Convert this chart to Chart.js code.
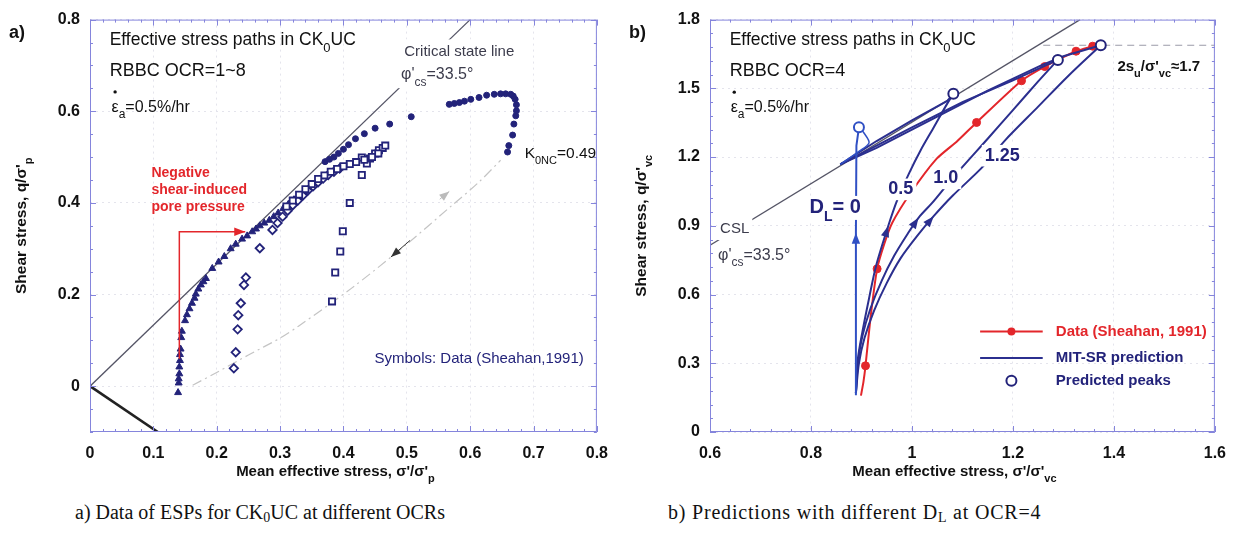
<!DOCTYPE html>
<html>
<head>
<meta charset="utf-8">
<script src="https://cdn.jsdelivr.net/npm/chart.js@4.4.1/dist/chart.umd.min.js"></script>
<style>
  body { margin: 0; background: #fff; width: 1238px; height: 536px; overflow: hidden; position: relative; }
  canvas { position: absolute; top: 0; }
  #cA { left: 0; }
  #cB { left: 620px; }
  .cap { position: absolute; top: 501px; font-family: "Liberation Serif", "Times New Roman", serif; font-size: 20px; color: #111; white-space: nowrap; }
  .cap sub { font-size: 14px; vertical-align: -3px; }
</style>
</head>
<body>
<canvas id="cA" width="620" height="490"></canvas>
<canvas id="cB" width="618" height="490"></canvas>
<div class="cap" style="left:75px">a) Data of ESPs for CK<sub>0</sub>UC at different OCRs</div>
<div class="cap" style="left:668px; letter-spacing:0.8px">b) Predictions with different D<sub>L</sub> at OCR=4</div>
<script>
// ---------- panel a : data ----------
const aTicksX = [0, 0.1, 0.2, 0.3, 0.4, 0.5, 0.6, 0.7, 0.8];
const aTicksY = [0, 0.2, 0.4, 0.6, 0.8];

const cslAx = [0, 0.6];
const cslAy = [0, 0.8];
const k0Ax = [0, 0.107];
const k0Ay = [0, -0.1];

// K0 consolidation / unloading path (dash-dot)
const unloadX = [0.162, 0.2, 0.25, 0.3, 0.329, 0.413, 0.5, 0.57, 0.612, 0.648];
const unloadY = [0.002, 0.03, 0.068, 0.105, 0.131, 0.214, 0.31, 0.393, 0.443, 0.493];

// symbols (Sheahan, 1991)
const triX = [0.139, 0.140, 0.140, 0.141, 0.141, 0.142, 0.142, 0.143, 0.144, 0.145, 0.150, 0.153, 0.157, 0.161, 0.165, 0.167, 0.171, 0.175, 0.179, 0.183, 0.193, 0.203, 0.212, 0.222, 0.230, 0.240, 0.248, 0.256, 0.262, 0.268, 0.275, 0.283, 0.290, 0.297, 0.305, 0.313, 0.322, 0.330, 0.340, 0.350, 0.360];
const triY = [-0.014, 0.007, 0.016, 0.027, 0.042, 0.056, 0.069, 0.081, 0.106, 0.120, 0.143, 0.156, 0.169, 0.181, 0.192, 0.201, 0.212, 0.221, 0.228, 0.235, 0.257, 0.271, 0.283, 0.300, 0.310, 0.321, 0.328, 0.337, 0.343, 0.350, 0.356, 0.362, 0.370, 0.378, 0.388, 0.397, 0.407, 0.417, 0.428, 0.437, 0.447];

const diaX = [0.227, 0.230, 0.233, 0.234, 0.238, 0.243, 0.246, 0.268, 0.288, 0.296, 0.304, 0.312, 0.320, 0.328, 0.336, 0.344, 0.352, 0.360, 0.368, 0.376, 0.385, 0.394];
const diaY = [0.039, 0.074, 0.124, 0.155, 0.181, 0.221, 0.237, 0.301, 0.341, 0.356, 0.370, 0.383, 0.395, 0.405, 0.416, 0.427, 0.436, 0.445, 0.453, 0.461, 0.468, 0.475];

const sqX = [0.382, 0.387, 0.395, 0.399, 0.410, 0.429, 0.437, 0.429, 0.442, 0.450, 0.456, 0.462, 0.466, 0.455, 0.445, 0.433, 0.420, 0.410, 0.400, 0.390, 0.380, 0.370, 0.360, 0.350, 0.340, 0.330, 0.320, 0.310];
const sqY = [0.185, 0.248, 0.294, 0.338, 0.400, 0.461, 0.486, 0.499, 0.497, 0.508, 0.515, 0.520, 0.525, 0.508, 0.500, 0.494, 0.489, 0.485, 0.480, 0.474, 0.468, 0.460, 0.452, 0.441, 0.430, 0.418, 0.405, 0.392];

const circX = [0.659, 0.661, 0.667, 0.669, 0.672, 0.673, 0.673, 0.671, 0.668, 0.664, 0.656, 0.648, 0.638, 0.626, 0.614, 0.601, 0.591, 0.583, 0.575, 0.567, 0.507, 0.473, 0.450, 0.433, 0.419, 0.408, 0.400, 0.392, 0.385, 0.378, 0.371];
const circY = [0.511, 0.525, 0.548, 0.572, 0.590, 0.601, 0.614, 0.626, 0.633, 0.637, 0.638, 0.638, 0.637, 0.635, 0.630, 0.626, 0.622, 0.619, 0.617, 0.615, 0.588, 0.572, 0.563, 0.551, 0.540, 0.527, 0.517, 0.508, 0.500, 0.495, 0.490];

// annotation arrows
const redArrX = [0.141, 0.141, 0.245];
const redArrY = [0.06, 0.337, 0.337];
const dArr1X = [0.505, 0.475];
const dArr1Y = [0.318, 0.282];
const dArr2X = [0.552, 0.567];
const dArr2Y = [0.408, 0.425];

// ---------- panel b : data ----------
const bTicksX = [0.6, 0.8, 1, 1.2, 1.4, 1.6];
const bTicksY = [0, 0.3, 0.6, 0.9, 1.2, 1.5, 1.8];

const cslBx = [0.6, 1.333];
const cslBy = [0.815, 1.8];
const peakLineX = [1.26, 1.6];
const peakLineY = [1.688, 1.688];

// measured (Sheahan, 1991)
const redLineX = [0.899, 0.904, 0.908, 0.918, 0.931, 0.945, 0.961, 0.997, 1.049, 1.090, 1.128, 1.217, 1.263, 1.325, 1.358];
const redLineY = [0.159, 0.220, 0.289, 0.500, 0.712, 0.820, 0.913, 1.042, 1.193, 1.270, 1.351, 1.533, 1.595, 1.662, 1.684];
const redPtX = [0.908, 0.931, 1.128, 1.217, 1.263, 1.325, 1.358];
const redPtY = [0.289, 0.712, 1.351, 1.533, 1.595, 1.662, 1.684];

// MIT-SR predictions, D_L = 0, 0.5, 1.0, 1.25
const dl0X = [0.889, 0.889, 0.889, 0.890, 0.895];
const dl0Y = [0.16, 0.60, 0.87, 1.25, 1.33];
const dl0PostX = [0.895, 0.905, 0.915, 0.895, 0.858];
const dl0PostY = [1.33, 1.305, 1.262, 1.225, 1.168];

const dl05X = [0.889, 0.893, 0.902, 0.915, 0.929, 0.953, 0.971, 0.994, 1.017, 1.043, 1.069, 1.082];
const dl05Y = [0.17, 0.32, 0.439, 0.583, 0.726, 0.899, 1.013, 1.128, 1.229, 1.329, 1.43, 1.476];
const dl05PostX = [1.082, 1.07, 1.0, 0.93, 0.858];
const dl05PostY = [1.476, 1.445, 1.36, 1.27, 1.168];

const dl10X = [0.889, 0.893, 0.902, 0.918, 0.940, 0.965, 0.990, 1.013, 1.040, 1.070, 1.100, 1.150, 1.200, 1.250, 1.289];
const dl10Y = [0.17, 0.30, 0.42, 0.54, 0.66, 0.77, 0.86, 0.935, 1.00, 1.08, 1.157, 1.28, 1.405, 1.53, 1.624];
const dl10PostX = [1.289, 1.2, 1.1, 1.0, 0.93, 0.858];
const dl10PostY = [1.624, 1.535, 1.44, 1.33, 1.25, 1.168];

const dl125X = [0.889, 0.895, 0.906, 0.925, 0.950, 0.978, 1.010, 1.043, 1.080, 1.140, 1.184, 1.250, 1.310, 1.374];
const dl125Y = [0.17, 0.30, 0.41, 0.53, 0.65, 0.76, 0.855, 0.942, 1.03, 1.157, 1.272, 1.42, 1.555, 1.688];
const dl125PostX = [1.374, 1.3, 1.256, 1.15, 1.0, 0.93, 0.858];
const dl125PostY = [1.688, 1.64, 1.6, 1.49, 1.32, 1.24, 1.168];

const peakX = [0.895, 1.082, 1.289, 1.374];
const peakY = [1.33, 1.476, 1.624, 1.688];

// ---------- styles ----------
const FONT = '"Liberation Sans", Arial, Helvetica, sans-serif';
const NAVY = '#23237a';
const BLUE = '#2b2f8f';
const BLUE0 = '#3050c4';
const RED = '#e3262b';
const GREY = '#3c3c4c';
const FRAME = '#8585dc';

const pts = (xs, ys) => xs.map((x, i) => ({ x: x, y: ys[i] }));

function line(xs, ys, color, width, extra) {
    return Object.assign({
        data: pts(xs, ys), showLine: true, borderColor: color, backgroundColor: color,
        borderWidth: width, pointRadius: 0, fill: false, tension: 0
    }, extra || {});
}

function marks(xs, ys, style, radius, filled, extra) {
    return Object.assign({
        data: pts(xs, ys), showLine: false, pointStyle: style, pointRadius: radius,
        borderColor: NAVY, backgroundColor: filled ? NAVY : '#fff',
        pointBorderWidth: filled ? 1 : 1.8
    }, extra || {});
}

// text with subscripts / dotted letters
function rich(ctx, x, y, parts, o) {
    const size = o.size || 15, weight = o.weight || 'normal';
    const f = s => weight + ' ' + s + 'px ' + FONT;
    let total = 0;
    const segs = parts.map(p => {
        const k = p[1] || '';
        const s = k === 'sub' ? Math.round(size * 0.72) : size;
        ctx.font = f(s);
        const wd = ctx.measureText(p[0]).width;
        total += wd;
        return { t: p[0], k: k, s: s, wd: wd };
    });
    let cx = o.align === 'center' ? x - total / 2 : (o.align === 'right' ? x - total : x);
    ctx.save();
    if (o.bg) {
        const pad = o.bgPad || 0.75;
        ctx.fillStyle = '#fff';
        ctx.fillRect(cx - 3, y - size * pad, total + 6, size * pad * 2);
    }
    ctx.fillStyle = o.color || '#111';
    ctx.textBaseline = 'middle';
    ctx.textAlign = 'left';
    segs.forEach(sg => {
        ctx.font = f(sg.s);
        const dy = sg.k === 'sub' ? size * 0.48 : 0;
        ctx.fillText(sg.t, cx, y + dy);
        if (sg.k === 'dot') {
            ctx.beginPath();
            ctx.arc(cx + sg.wd / 2, y - size * 0.95, 1.7, 0, Math.PI * 2);
            ctx.fill();
        }
        cx += sg.wd;
    });
    ctx.restore();
}

function head(ctx, x0, y0, x1, y1, col, len) {
    const a = Math.atan2(y1 - y0, x1 - x0), w = len * 0.38;
    const bx = x1 - len * Math.cos(a), by = y1 - len * Math.sin(a);
    ctx.save();
    ctx.fillStyle = col;
    ctx.beginPath();
    ctx.moveTo(x1, y1);
    ctx.lineTo(bx + w * Math.sin(a), by - w * Math.cos(a));
    ctx.lineTo(bx - w * Math.sin(a), by + w * Math.cos(a));
    ctx.closePath();
    ctx.fill();
    ctx.restore();
}

// frame, inward ticks, titles, in-plot labels, arrowheads
const deco = {
    id: 'deco',
    afterDatasetsDraw(chart, args, o) {
        const ctx = chart.ctx, xs = chart.scales.x, ys = chart.scales.y;
        chart.data.datasets.forEach((ds, i) => {
            if (!ds.arrows) return;
            const m = chart.getDatasetMeta(i);
            ds.arrows.forEach(k => {
                const p = m.data[k], q = m.data[k - 1];
                head(ctx, q.x, q.y, p.x, p.y, ds.borderColor, ds.headLen || 10);
            });
        });
        (o.texts || []).forEach(t => rich(ctx, xs.getPixelForValue(t.x), ys.getPixelForValue(t.y), t.parts, t));
        if (o.legend) {
            const L = o.legend;
            const x0 = xs.getPixelForValue(L.x0), x1 = xs.getPixelForValue(L.x1);
            const xm = (x0 + x1) / 2, tx = xs.getPixelForValue(L.tx);
            const r = L.rows.map(v => ys.getPixelForValue(v));
            ctx.save();
            ctx.lineWidth = 2;
            ctx.strokeStyle = RED;
            ctx.beginPath(); ctx.moveTo(x0, r[0]); ctx.lineTo(x1, r[0]); ctx.stroke();
            ctx.fillStyle = RED;
            ctx.beginPath(); ctx.arc(xm, r[0], 4, 0, Math.PI * 2); ctx.fill();
            ctx.strokeStyle = BLUE;
            ctx.beginPath(); ctx.moveTo(x0, r[1]); ctx.lineTo(x1, r[1]); ctx.stroke();
            ctx.strokeStyle = NAVY;
            ctx.fillStyle = '#fff';
            ctx.beginPath(); ctx.arc(xm, r[2], 5, 0, Math.PI * 2); ctx.fill(); ctx.stroke();
            ctx.restore();
            rich(ctx, tx, r[0], [['Data (Sheahan, 1991)']], { size: 15, weight: 'bold', color: RED });
            rich(ctx, tx, r[1], [['MIT-SR prediction']], { size: 15, weight: 'bold', color: NAVY });
            rich(ctx, tx, r[2], [['Predicted peaks']], { size: 15, weight: 'bold', color: NAVY });
        }
    },
    afterDraw(chart, args, o) {
        const ctx = chart.ctx, a = chart.chartArea, xs = chart.scales.x, ys = chart.scales.y;
        ctx.save();
        ctx.strokeStyle = FRAME;
        ctx.lineWidth = 1;
        ctx.strokeRect(a.left + 0.5, a.top + 0.5, a.right - a.left - 1, a.bottom - a.top - 1);
        const isMajor = (v, list) => list.some(t => Math.abs(t - v) < 1e-6);
        ctx.beginPath();
        let n = Math.round((xs.max - xs.min) / o.minorX);
        for (let i = 0; i <= n; i++) {
            const v = xs.min + i * o.minorX, px = Math.round(xs.getPixelForValue(v)) + 0.5;
            const len = isMajor(v, o.ticksX) ? 6 : 3;
            ctx.moveTo(px, a.bottom); ctx.lineTo(px, a.bottom - len);
            ctx.moveTo(px, a.top); ctx.lineTo(px, a.top + len);
        }
        n = Math.round((ys.max - ys.min) / o.minorY);
        for (let i = 0; i <= n; i++) {
            const v = ys.min + i * o.minorY, py = Math.round(ys.getPixelForValue(v)) + 0.5;
            const len = isMajor(v, o.ticksY) ? 6 : 3;
            ctx.moveTo(a.left, py); ctx.lineTo(a.left + len, py);
            ctx.moveTo(a.right, py); ctx.lineTo(a.right - len, py);
        }
        ctx.stroke();
        ctx.restore();

        rich(ctx, 9, 33, [[o.letter]], { size: 18, weight: 'bold' });
        rich(ctx, (a.left + a.right) / 2 - 8, 472, o.xTitle, { size: 15, weight: 'bold', align: 'center' });
        ctx.save();
        ctx.translate(22, (a.top + a.bottom) / 2);
        ctx.rotate(-Math.PI / 2);
        rich(ctx, 0, 0, o.yTitle, { size: 15.5, weight: 'bold', align: 'center' });
        ctx.restore();
    }
};

function axis(min, max, ticks, isY) {
    return {
        type: 'linear', min: min, max: max,
        afterBuildTicks: s => { s.ticks = ticks.map(v => ({ value: v })); },
        afterFit: s => { if (isY) { s.width = 90; } else { s.height = 58; } },
        ticks: {
            autoSkip: false, maxRotation: 0, padding: isY ? 10 : 12, color: '#111',
            font: { family: FONT, size: 16, weight: 'bold' },
            callback: v => String(v)
        },
        grid: { color: '#e4e4ec', drawTicks: false, lineWidth: 1 },
        border: { display: false, dash: [2, 4] }
    };
}

function options(xr, yr, decoOpts) {
    return {
        responsive: false, animation: false, devicePixelRatio: 1,
        layout: { padding: { left: 0, right: 20, top: 14, bottom: 0 } },
        plugins: { legend: { display: false }, tooltip: { enabled: false }, deco: decoOpts },
        scales: { x: axis(xr[0], xr[1], xr[2], false), y: axis(yr[0], yr[1], yr[2], true) }
    };
}

// ---------- chart a ----------
new Chart(document.getElementById('cA'), {
    type: 'scatter',
    plugins: [deco],
    data: {
        datasets: [
            line(redArrX, redArrY, RED, 1.5, { arrows: [2], headLen: 11 }),
            line(dArr1X, dArr1Y, '#333', 1, { arrows: [1], headLen: 10 }),
            line(dArr2X, dArr2Y, '#bbb', 1, { arrows: [1], headLen: 10 }),
            marks(circX, circY, 'circle', 3, true),
            marks(sqX, sqY, 'rect', 4.4, false),
            marks(diaX, diaY, 'rectRot', 4.2, false),
            marks(triX, triY, 'triangle', 4, true),
            line(unloadX, unloadY, '#c4c4c4', 1.2, { borderDash: [10, 4, 2, 4], tension: 0.3 }),
            line(cslAx, cslAy, '#555566', 1.3),
            line(k0Ax, k0Ay, '#222', 2.6)
        ]
    },
    options: options([0, 0.8, aTicksX], [-0.1, 0.8, aTicksY], {
        letter: 'a)', minorX: 0.02, minorY: 0.05, ticksX: aTicksX, ticksY: aTicksY,
        xTitle: [["Mean effective stress, σ'/σ'"], ['p', 'sub']],
        yTitle: [["Shear stress, q/σ'"], ['p', 'sub']],
        texts: [
            { x: 0.031, y: 0.755, parts: [['Effective stress paths in CK'], ['0', 'sub'], ['UC']], size: 17.5 },
            { x: 0.031, y: 0.688, parts: [['RBBC OCR=1~8']], size: 18 },
            { x: 0.034, y: 0.609, parts: [['ε', 'dot'], ['a', 'sub'], ['=0.5%/hr']], size: 16 },
            { x: 0.097, y: 0.465, parts: [['Negative']], size: 14, weight: 'bold', color: RED },
            { x: 0.097, y: 0.428, parts: [['shear-induced']], size: 14, weight: 'bold', color: RED },
            { x: 0.097, y: 0.391, parts: [['pore pressure']], size: 14, weight: 'bold', color: RED },
            { x: 0.496, y: 0.729, parts: [['Critical state line']], size: 15, color: GREY, bg: true, bgPad: 0.85 },
            { x: 0.491, y: 0.680, parts: [["φ'"], ['cs', 'sub'], ['=33.5°']], size: 16, color: GREY, bg: true, bgPad: 0.85 },
            { x: 0.686, y: 0.508, parts: [['K'], ['0NC', 'sub'], ['=0.49']], size: 15.5 },
            { x: 0.449, y: 0.060, parts: [['Symbols: Data (Sheahan,1991)']], size: 15, color: NAVY }
        ]
    })
});

// ---------- chart b ----------
new Chart(document.getElementById('cB'), {
    type: 'scatter',
    plugins: [deco],
    data: {
        datasets: [
            marks(peakX, peakY, 'circle', 5, false, {
                borderColor: c => (c.dataIndex === 0 ? BLUE0 : NAVY), pointBorderWidth: 2
            }),
            line(dl0X, dl0Y, BLUE0, 2, { arrows: [2], headLen: 11 }),
            line(dl0PostX, dl0PostY, BLUE0, 1.5, { tension: 0.3 }),
            line(dl05X, dl05Y, BLUE, 2, { tension: 0.3, arrows: [5], headLen: 11 }),
            line(dl05PostX, dl05PostY, BLUE, 2),
            line(dl10X, dl10Y, BLUE, 2, { tension: 0.3, arrows: [7], headLen: 11 }),
            line(dl10PostX, dl10PostY, BLUE, 2),
            line(dl125X, dl125Y, BLUE, 2, { tension: 0.3, arrows: [7], headLen: 11 }),
            line(dl125PostX, dl125PostY, BLUE, 2),
            marks(redPtX, redPtY, 'circle', 4, true, { borderColor: RED, backgroundColor: RED }),
            line(redLineX, redLineY, RED, 2, { tension: 0.2 }),
            line(peakLineX, peakLineY, '#9a9aa8', 1, { borderDash: [7, 5] }),
            line(cslBx, cslBy, '#555566', 1.3)
        ]
    },
    options: options([0.6, 1.6, bTicksX], [0, 1.8, bTicksY], {
        letter: 'b)', minorX: 0.04, minorY: 0.06, ticksX: bTicksX, ticksY: bTicksY,
        xTitle: [["Mean effective stress, σ'/σ'"], ['vc', 'sub']],
        yTitle: [["Shear stress, q/σ'"], ['vc', 'sub']],
        legend: { x0: 1.135, x1: 1.259, tx: 1.285, rows: [0.439, 0.323, 0.224] },
        texts: [
            { x: 0.639, y: 1.710, parts: [['Effective stress paths in CK'], ['0', 'sub'], ['UC']], size: 17.5 },
            { x: 0.639, y: 1.576, parts: [['RBBC OCR=4']], size: 18 },
            { x: 0.641, y: 1.417, parts: [['ε', 'dot'], ['a', 'sub'], ['=0.5%/hr']], size: 16 },
            { x: 0.620, y: 0.887, parts: [['CSL']], size: 15, color: GREY, bg: true },
            { x: 0.616, y: 0.771, parts: [["φ'"], ['cs', 'sub'], ['=33.5°']], size: 16, color: GREY },
            { x: 1.407, y: 1.593, parts: [['2s'], ['u', 'sub'], ["/σ'"], ['vc', 'sub'], ['≈1.7']], size: 15, weight: 'bold' },
            { x: 0.797, y: 0.978, parts: [['D'], ['L', 'sub'], ['= 0']], size: 20, weight: 'bold', color: NAVY, bg: true, bgPad: 0.6 },
            { x: 0.978, y: 1.059, parts: [['0.5']], size: 18, weight: 'bold', color: NAVY, align: 'center', bg: true, bgPad: 0.6 },
            { x: 1.067, y: 1.107, parts: [['1.0']], size: 18, weight: 'bold', color: NAVY, align: 'center', bg: true, bgPad: 0.6 },
            { x: 1.179, y: 1.206, parts: [['1.25']], size: 18, weight: 'bold', color: NAVY, align: 'center', bg: true, bgPad: 0.6 }
        ]
    })
});
</script>
</body>
</html>
